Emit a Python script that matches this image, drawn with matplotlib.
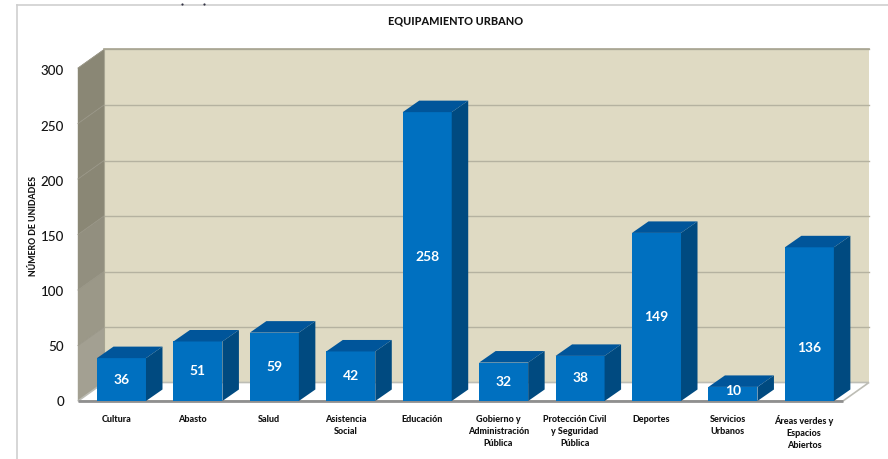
import matplotlib
matplotlib.use("Agg")
import matplotlib.pyplot as plt
from matplotlib.patches import Polygon
from matplotlib.lines import Line2D

categories = ["Cultura", "Abasto", "Salud", "Asistencia\nSocial", "Educación",
              "Gobierno y\nAdministración\nPública", "Protección Civil\ny Seguridad\nPública",
              "Deportes", "Servicios\nUrbanos", "Áreas verdes y\nEspacios\nAbiertos"]
values = [36, 51, 59, 42, 258, 32, 38, 149, 10, 136]
y_ticks = [0, 50, 100, 150, 200, 250, 300]
title = "EQUIPAMIENTO URBANO"
ylabel = "NÚMERO DE UNIDADES"

W, H = 888, 459
plt.rcParams['font.family'] = ['Lato', 'DejaVu Sans']
fig = plt.figure(figsize=(W / 100, H / 100), dpi=100, facecolor="white")

# front plane of the 3D box
L, R, B, T = 78, 843, 401, 68
ax = fig.add_axes([L / W, 1 - B / H, (R - L) / W, (B - T) / H])
ax.set_xlim(-0.569, 9.44)
ax.set_ylim(0, 300)
ax.axis("off")

# the bars stand on their own value scale, a little off the walls, as in the source
B2, BT = 398, 65.6
bx = fig.add_axes([L / W, 1 - B2 / H, (R - L) / W, (B2 - BT) / H], sharex=ax)
bx.set_ylim(0, 300)
bx.axis("off")
bx.patch.set_alpha(0)

ux = (R - L) / (9.44 + 0.569)   # px per category
uy = (B - T) / 300              # px per unit, walls
vy = (B2 - BT) / 300            # px per unit, bars
wall_dx, wall_dy = 26 / ux, 18.5 / uy
bar_dx, bar_dy = 16.5 / ux, 11.5 / vy
bar_w = 49 / ux
foot = -(B - B2) / vy           # the bars' feet reach the front floor edge

WALL = "#DFDAC3"
SIDE_TOP = (0x8A, 0x87, 0x75)
SIDE_BOT = (0xA3, 0xA0, 0x92)
GRID = "#B5B2A0"
FRONT = "#0070C0"
TOP = "#00559A"
DARK = "#004A80"
TXT = "#141414"
HEAVY = 900

def poly(a, pts, fc, ec="none", z=1, lw=0):
    a.add_patch(Polygon(pts, closed=True, fc=fc, ec=ec, lw=lw, zorder=z, clip_on=False))

x0, x1 = ax.get_xlim()
# back wall, side wall, floor
poly(ax, [(x0 + wall_dx, wall_dy), (x1 + wall_dx, wall_dy), (x1 + wall_dx, 300 + wall_dy), (x0 + wall_dx, 300 + wall_dy)], WALL)
for lo, hi in zip(y_ticks[:-1], y_ticks[1:]):
    f = min(1, lo / 150)
    col = tuple((SIDE_BOT[k] + (SIDE_TOP[k] - SIDE_BOT[k]) * f) / 255 for k in range(3))
    poly(ax, [(x0, lo), (x0 + wall_dx, lo + wall_dy), (x0 + wall_dx, hi + wall_dy), (x0, hi)], col, ec=col, lw=0.3)
poly(ax, [(x0, 0), (x1, 0), (x1 + wall_dx, wall_dy), (x0 + wall_dx, wall_dy)], "white", ec="#BDBDB5", lw=1.2)

for t in y_ticks:
    if t > 0:
        ax.plot([x0 + wall_dx, x1 + wall_dx], [t + wall_dy] * 2, color=GRID, lw=1, zorder=2, clip_on=False)
        ax.plot([x0, x0 + wall_dx], [t, t + wall_dy], color="#9A9788", lw=0.6, zorder=2, clip_on=False)
    ax.text(x0 - 14 / ux, t * 331 / 333 + (-1.5 / uy), str(t), ha="right", va="center", fontsize=9.6,
            color=TXT, fontweight=500, zorder=6)
ax.plot([x0, x1], [0, 0], color="#8F8F8F", lw=2, zorder=2, clip_on=False, solid_capstyle="butt")
ax.plot([x0 + wall_dx, x0 + wall_dx], [wall_dy, 300 + wall_dy], color="#A8A592", lw=0.8, zorder=2, clip_on=False)
ax.plot([x0 + wall_dx, x1 + wall_dx], [300 + wall_dy] * 2, color="#A8A592", lw=1.2, zorder=2, clip_on=False)

label_nudge_px = {7: 0, 8: -3, 9: 24}  # labels that sit off the bar's middle in the source (px, + is down)
for i, (c, v) in enumerate(zip(categories, values)):
    l, r = i - bar_w / 2, i + bar_w / 2
    bx.bar(i, v - foot, bottom=foot, width=bar_w, color=FRONT, zorder=4 + i * 0.01, linewidth=0, clip_on=False)
    poly(bx, [(r, foot), (r + bar_dx, foot + bar_dy), (r + bar_dx, v + bar_dy), (r, v)], DARK, z=4 + i * 0.01)
    poly(bx, [(l, v), (r, v), (r + bar_dx, v + bar_dy), (l + bar_dx, v + bar_dy)], TOP, z=4 + i * 0.01)
    bx.text(i, v / 2 - (1.5 + label_nudge_px.get(i, 0)) / vy, str(v), ha="center", va="center", color="white",
            fontsize=10, fontweight="bold", zorder=6)
    ax.text(i - 0.07, -14 / uy, c, ha="center", va="top", fontsize=6.5, fontweight=HEAVY,
            color=TXT, linespacing=1.42, zorder=6)

fig.text(456 / W, 1 - 21 / H, title, ha="center", va="center", fontsize=7.8, fontweight=HEAVY, color=TXT)
fig.text(33 / W, 1 - 226 / H, ylabel, rotation=90, ha="center", va="center", fontsize=6.3, fontweight=HEAVY, color=TXT)

# surrounding frame of the chart area
fig.add_artist(Line2D([17 / W, 1], [1 - 5 / H] * 2, color="#CFCFCF", lw=1.2))
fig.add_artist(Line2D([17 / W] * 2, [1 - 5 / H, 0], color="#CFCFCF", lw=1.2))
# clipped remnants of text above the frame
for px in (182, 204):
    fig.add_artist(Line2D([px / W], [1 - 3.5 / H], marker="o", ms=1.6, mew=0, color="#333344"))

fig.savefig("out.png", dpi=100)
